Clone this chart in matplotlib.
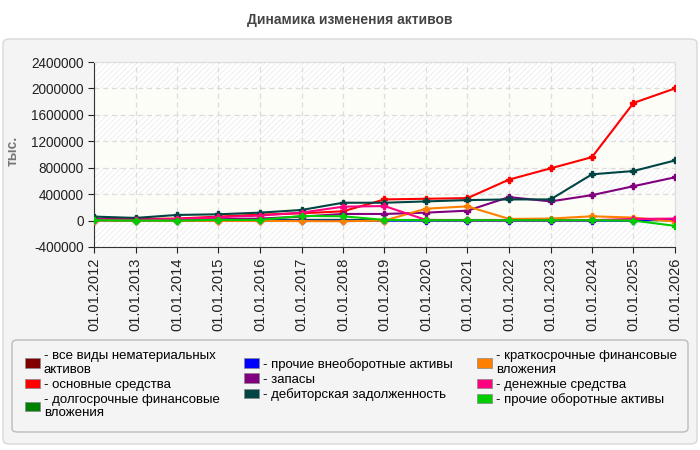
import matplotlib.pyplot as plt
from matplotlib.patches import FancyBboxPatch, Patch

plt.rcParams['font.family'] = ['Liberation Sans', 'DejaVu Sans']
plt.rcParams['hatch.linewidth'] = 0.6

dates = ['01.01.2012', '01.01.2013', '01.01.2014', '01.01.2015', '01.01.2016',
         '01.01.2017', '01.01.2018', '01.01.2019', '01.01.2020', '01.01.2021',
         '01.01.2022', '01.01.2023', '01.01.2024', '01.01.2025', '01.01.2026']

intangible = [2000, 2000, 2000, 2000, 2000, 2000, 2000, 2000, 2000, 2000, 2000, 2000, 2000, 2000, 2000]
fixed_assets = [20000, 25000, 30000, 60000, 90000, 110000, 140000, 320000, 330000, 340000,
                620000, 790000, 960000, 1780000, 2000000]
long_fin = [15000, 10000, 10000, 10000, 10000, 10000, 10000, 5000, 5000, 5000, 5000, 5000, 5000, 5000, 5000]
other_noncur = [0, 0, 0, 0, 0, 0, 0, 0, 0, 0, 0, 0, 0, 0, 20000]
stocks = [20000, 15000, 15000, 20000, 30000, 60000, 100000, 100000, 120000, 150000,
          355000, 290000, 385000, 520000, 655000]
receivables = [60000, 40000, 85000, 95000, 120000, 160000, 270000, 270000, 290000, 310000,
               320000, 320000, 700000, 750000, 910000]
short_fin = [0, -2000, -3000, -5000, -5000, -8000, -10000, 0, 180000, 215000,
             25000, 30000, 65000, 45000, -15000]
cash = [15000, 10000, 25000, 50000, 75000, 120000, 210000, 220000, 10000, 5000,
        5000, 5000, 5000, 25000, 30000]
other_cur = [5000, 0, 0, 10000, 10000, 70000, 65000, 10000, 5000, 5000,
             5000, 5000, 5000, 0, -80000]

names = ['- все виды нематериальных\nактивов', '- основные средства',
         '- долгосрочные финансовые\nвложения', '- прочие внеоборотные активы',
         '- запасы', '- дебиторская задолженность',
         '- краткосрочные финансовые\nвложения', '- денежные средства',
         '- прочие оборотные активы']
series = [intangible, fixed_assets, long_fin, other_noncur, stocks, receivables,
          short_fin, cash, other_cur]
colors = ['#800000', '#ff0000', '#008000', '#0000ff', '#800080', '#004444',
          '#ff8000', '#ff0080', '#00cc00']

fig = plt.figure(figsize=(7, 4.5), dpi=100, facecolor='white')

# outer panel and legend box
panel = FancyBboxPatch((3 / 700, 6 / 450), 694 / 700, 405 / 450,
                       boxstyle='round,pad=0,rounding_size=0.01',
                       transform=fig.transFigure, fc='#f4f4f4', ec='#d8d8d8', lw=1, zorder=-2)
fig.patches.append(panel)
legbox = FancyBboxPatch((12 / 700, 18 / 450), 676 / 700, 92 / 450,
                        boxstyle='round,pad=0,rounding_size=0.008',
                        transform=fig.transFigure, fc='#f4f4f4', ec='#bbbbbb', lw=1, zorder=-1)
fig.patches.append(legbox)

fig.text(0.5, 1 - 20 / 450, 'Динамика изменения активов', ha='center', va='center',
         fontsize=10, fontweight='bold', color='#444444')

ax = fig.add_axes([94 / 700, 1 - 247 / 450, 581 / 700, 185 / 450])
ax.set_facecolor('white')

# alternating bands
edges = [-400000, 0, 400000, 800000, 1200000, 1600000, 2000000, 2400000]
for i in range(len(edges) - 1):
    if i % 2 == 0:
        ax.axhspan(edges[i], edges[i + 1], fc='white', ec='#ececec', hatch='//////', lw=0, zorder=0)
    else:
        ax.axhspan(edges[i], edges[i + 1], fc='#fcfdf6', lw=0, zorder=0)

x = list(range(len(dates)))
for vals, c, n in zip(series, colors, names):
    ax.plot(x, vals, color=c, lw=1.5, marker='P', ms=4, label=n, zorder=3)

ax.set_xlim(0, len(dates) - 1)
ax.set_ylim(-400000, 2400000)
ax.set_yticks(edges)
ax.set_yticklabels([str(v) for v in edges])
ax.set_xticks(x)
ax.set_xticklabels(dates, rotation=90)
ax.tick_params(axis='x', labelsize=10.5, colors='#222222', length=4)
ax.tick_params(axis='y', labelsize=9.8, colors='#222222', length=4)
ax.grid(True, color='#dcdcdc', ls=(0, (4, 3)), lw=0.9, zorder=1)
ax.set_axisbelow(True)
for s in ['top', 'right']:
    ax.spines[s].set_color('#dddddd')
for s in ['left', 'bottom']:
    ax.spines[s].set_color('#333333')
ax.set_ylabel('тыс.', fontsize=10, fontweight='bold', color='#777777')
ax.yaxis.set_label_coords(-74 / 581, 0.52)

handles = [Patch(fc=c, ec='#888888', lw=0.5) for c in colors]
leg = fig.legend(handles, names, loc='upper left',
                 bbox_to_anchor=(16 / 700, 1 - 341 / 450, 670 / 700, 0.0),
                 mode='expand', ncol=3, frameon=False, fontsize=9.5,
                 handlelength=1.1, handleheight=0.7, handletextpad=0.3,
                 labelspacing=0.2, borderpad=0.2)

fig.savefig('out.png', dpi=100, facecolor='white')
